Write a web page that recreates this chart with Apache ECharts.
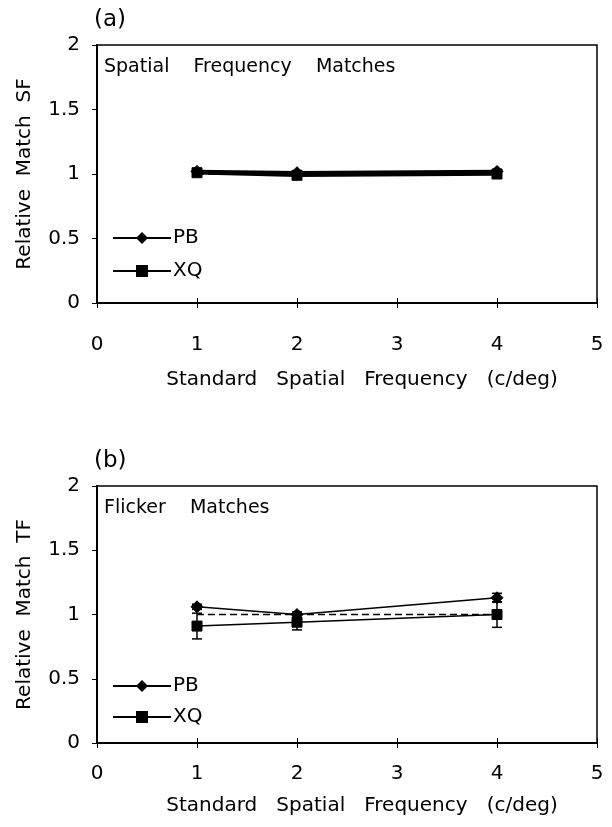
<!DOCTYPE html>
<html>
<head>
<meta charset="utf-8">
<script src="https://cdn.jsdelivr.net/npm/echarts@6/dist/echarts.min.js"></script>
<style>html,body{margin:0;padding:0;background:#fff}#c{width:612px;height:827px}</style>
</head>
<body>
<div id="c"></div>
<script>
// ---- data ----
var xStd = [1, 2, 4];
var xTicks = [0, 1, 2, 3, 4, 5];
var yTicks = [0, 0.5, 1, 1.5, 2];
// panel (a) Spatial Frequency Matches
var sfPB = [1.02, 1.01, 1.02];
var sfPBerr = [0.01, 0.01, 0.015];
var sfXQ = [1.01, 0.99, 1.00];
var sfXQerr = [0.01, 0.015, 0.015];
// panel (b) Flicker Matches
var tfPB = [1.06, 1.00, 1.13];
var tfPBerr = [0.02, 0.02, 0.035];
var tfXQ = [0.91, 0.94, 1.00];
var tfXQerr = [0.10, 0.06, 0.10];
var refLevel = [1, 1, 1];

var FONT = 'DejaVu Sans';
function pts(ys){ return xStd.map(function(x,i){ return [x, ys[i]]; }); }
function errPts(ys, es){ return xStd.map(function(x,i){ return [x, ys[i]-es[i], ys[i]+es[i]]; }); }

function errSeries(xi, yi, ys, es, w){
  return {
    type: 'custom', xAxisIndex: xi, yAxisIndex: yi, silent: true, z: 5,
    data: errPts(ys, es),
    renderItem: function(params, api){
      var lo = api.coord([api.value(0), api.value(1)]);
      var hi = api.coord([api.value(0), api.value(2)]);
      var cap = 5;
      var st = {stroke: '#000', lineWidth: w};
      return {type: 'group', children: [
        {type:'line', shape:{x1:lo[0], y1:lo[1], x2:hi[0], y2:hi[1]}, style: st},
        {type:'line', shape:{x1:lo[0]-cap, y1:lo[1], x2:lo[0]+cap, y2:lo[1]}, style: st},
        {type:'line', shape:{x1:hi[0]-cap, y1:hi[1], x2:hi[0]+cap, y2:hi[1]}, style: st}
      ]};
    }
  };
}

function lineSeries(name, xi, yi, ys, symbol, size, w){
  return {
    name: name, type: 'line', xAxisIndex: xi, yAxisIndex: yi, z: 6,
    data: pts(ys), symbol: symbol, symbolSize: size, showSymbol: true,
    lineStyle: {color: '#000', width: w},
    itemStyle: {color: '#000', borderColor: '#000'}
  };
}

function refSeries(xi, yi, w){
  return {
    type: 'line', xAxisIndex: xi, yAxisIndex: yi, z: 4, symbol: 'none', silent: true,
    data: pts(refLevel), lineStyle: {color: '#000', width: w, type: [7, 4]}
  };
}

var diamond = 'path://M0,-1 L1,0 L0,1 L-1,0 Z';

function xAx(gi, nameGap, labelMargin, main){
  return {
    type: 'value', gridIndex: gi, min: 0, max: 5, interval: 1,
    position: 'bottom',
    name: main ? 'Standard   Spatial   Frequency   (c/deg)' : '',
    nameLocation: 'middle', nameGap: nameGap,
    nameTextStyle: {fontFamily: FONT, fontSize: 20, color: '#000', padding: [0, 0, 0, 30]},
    axisLine: {show: true, onZero: false, lineStyle: {color: '#000', width: main ? 2 : 0}},
    axisTick: {show: true, inside: !main, length: 5, lineStyle: {color: '#000', width: 1}},
    axisLabel: {show: main, margin: labelMargin, fontFamily: FONT, fontSize: 20, color: '#000',
      formatter: function(v){ return xTicks.indexOf(v) >= 0 ? String(v) : ''; }},
    splitLine: {show: false}
  };
}
function yAx(gi, name, main){
  return {
    type: 'value', gridIndex: gi, min: 0, max: 2, interval: 0.5,
    name: main ? name : '',
    nameLocation: 'middle', nameGap: 62,
    nameTextStyle: {fontFamily: FONT, fontSize: 20, color: '#000'},
    axisLine: {show: true, lineStyle: {color: '#000', width: main ? 2 : 0}},
    axisTick: {show: true, inside: !main, length: 5, lineStyle: {color: '#000', width: 1}},
    axisLabel: {show: main, margin: 17, fontFamily: FONT, fontSize: 20, color: '#000',
      formatter: function(v){ return yTicks.indexOf(v) >= 0 ? String(v) : ''; }},
    splitLine: {show: false}
  };
}

var chart = echarts.init(document.getElementById('c'), null, {renderer: 'canvas'});
chart.setOption({
  animation: false,
  backgroundColor: '#fff',
  grid: [
    {left: 97, right: 15, top: 45, height: 258, show: true, borderColor: '#000', borderWidth: 1.5, backgroundColor: 'transparent'},
    {left: 97, right: 15, top: 486, height: 257, show: true, borderColor: '#000', borderWidth: 1.5, backgroundColor: 'transparent'}
  ],
  xAxis: [xAx(0, 67, 32, true), xAx(1, 53, 21, true), xAx(0, 0, 0, false), xAx(1, 0, 0, false)],
  yAxis: [yAx(0, 'Relative  Match  SF', true), yAx(1, 'Relative  Match  TF', true), yAx(0, '', false), yAx(1, '', false)],
  title: [
    {text: '(a)', left: 94, top: 9, padding: 0, textStyle: {fontFamily: FONT, fontSize: 23, fontWeight: 'normal', color: '#000'}},
    {text: 'Spatial    Frequency    Matches', left: 104, top: 58, padding: 0, textStyle: {fontFamily: FONT, fontSize: 19, fontWeight: 'normal', color: '#000'}},
    {text: '(b)', left: 94, top: 450, padding: 0, textStyle: {fontFamily: FONT, fontSize: 23, fontWeight: 'normal', color: '#000'}},
    {text: 'Flicker    Matches', left: 104, top: 499, padding: 0, textStyle: {fontFamily: FONT, fontSize: 19, fontWeight: 'normal', color: '#000'}}
  ],
  legend: [
    {left: 112, top: 228, padding: 0, orient: 'vertical', itemWidth: 58, itemHeight: 15, itemGap: 13,
     data: ['PB', 'XQ'], textStyle: {fontFamily: FONT, fontSize: 20, lineHeight: 20, color: '#000', padding: [0,0,0,-3]}, selectedMode: false},
    {left: 112, top: 676, padding: 0, orient: 'vertical', itemWidth: 58, itemHeight: 15, itemGap: 11,
     data: ['PB', 'XQ'], textStyle: {fontFamily: FONT, fontSize: 20, lineHeight: 20, color: '#000', padding: [0,0,0,-3]}, selectedMode: false}
  ],
  series: [
    refSeries(0, 0, 1.5),
    errSeries(0, 0, sfPB, sfPBerr, 1.5),
    errSeries(0, 0, sfXQ, sfXQerr, 1.5),
    lineSeries('PB', 0, 0, sfPB, diamond, 12, 3.5),
    lineSeries('XQ', 0, 0, sfXQ, 'rect', 10, 3.5),
    refSeries(1, 1, 1.5),
    errSeries(1, 1, tfPB, tfPBerr, 1.5),
    errSeries(1, 1, tfXQ, tfXQerr, 1.5),
    lineSeries('PB', 1, 1, tfPB, diamond, 12, 1.5),
    lineSeries('XQ', 1, 1, tfXQ, 'rect', 10, 1.5)
  ]
});
</script>
</body>
</html>
